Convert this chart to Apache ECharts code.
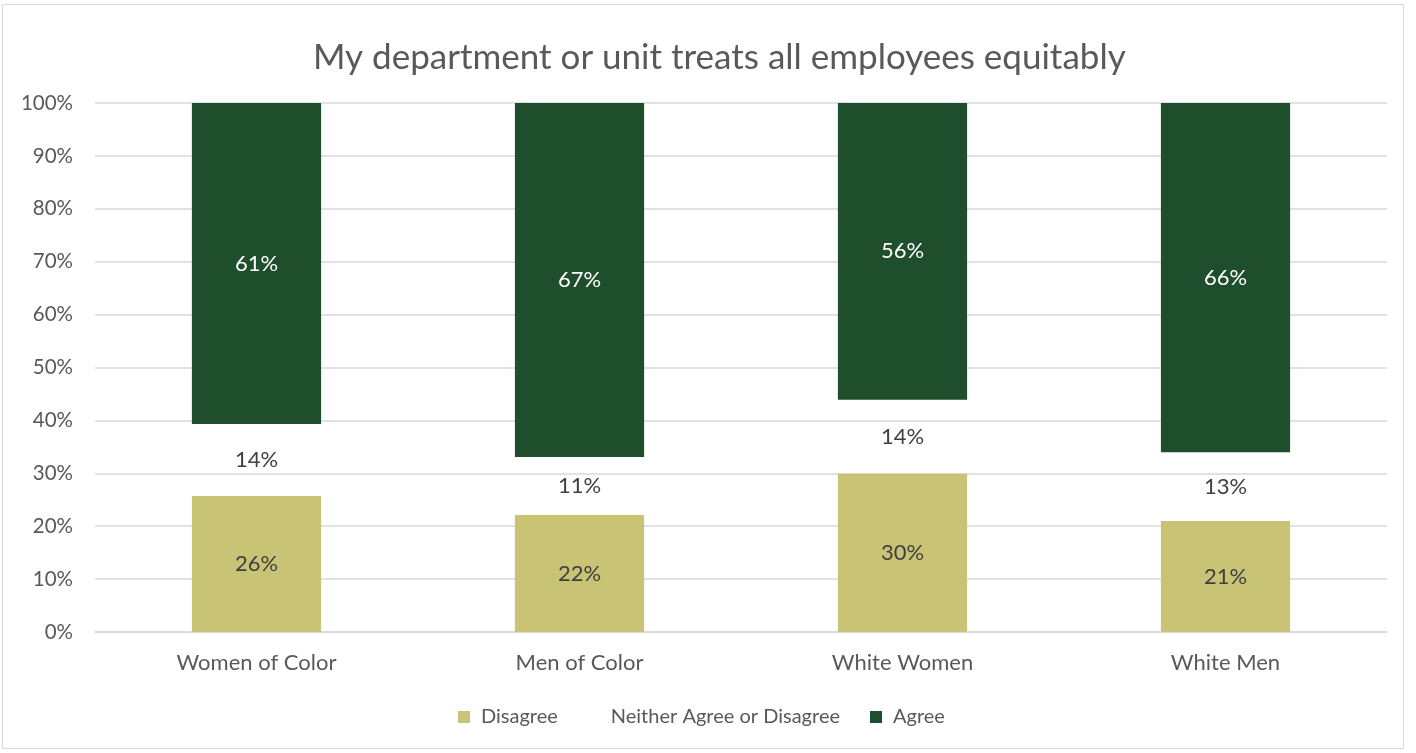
<!DOCTYPE html>
<html>
<head>
<meta charset="utf-8">
<script src="https://cdn.jsdelivr.net/npm/echarts@6/dist/echarts.min.js"></script>
<style>
  html, body { margin: 0; padding: 0; background: #ffffff; }
  #frame { position: absolute; left: 2px; top: 4px; width: 1402px; height: 745px; border: 1px solid #d9d9d9; box-sizing: border-box; }
  #chart { width: 1416px; height: 753px; position: absolute; left: 0; top: 0; }
</style>
</head>
<body>
<div id="frame"></div>
<div id="chart"></div>
<script>
const titleText = 'My department or unit treats all employees equitably';
const categories = ['Women of Color', 'Men of Color', 'White Women', 'White Men'];
const seriesNames = ['Disagree', 'Neither Agree or Disagree', 'Agree'];
// Shares of respondents per group (percent)
const disagree = [25.7, 22.1, 29.9, 21.0];
const neither = [13.6, 11.0, 14.0, 13.0];
const agree = [60.7, 66.9, 56.1, 66.0];
const yTicks = [0, 10, 20, 30, 40, 50, 60, 70, 80, 90, 100];

const FONT = 'Lato, "Open Sans", sans-serif';
const pct = p => Math.round(p.value) + '%';

const chart = echarts.init(document.getElementById('chart'));
chart.setOption({
  backgroundColor: 'transparent',
  animation: false,
  textStyle: { fontFamily: FONT },
  title: {
    text: titleText,
    left: 308,
    top: 35,
    textStyle: { fontFamily: FONT, fontSize: 35, fontWeight: 'normal', color: '#595959' }
  },
  legend: {
    bottom: 21,
    left: 453,
    itemWidth: 12,
    itemHeight: 12,
    itemGap: 30,
    icon: 'rect',
    textStyle: { fontFamily: FONT, fontSize: 20, color: '#595959', padding: [0, 0, 0, 6] },
    data: seriesNames
  },
  grid: { left: 95, right: 29, top: 103, bottom: 121 },
  xAxis: {
    type: 'category',
    data: categories,
    axisLine: { lineStyle: { color: '#d9d9d9', width: 1.5 } },
    axisTick: { show: false },
    axisLabel: { fontFamily: FONT, fontSize: 22, color: '#595959', margin: 20 }
  },
  yAxis: {
    type: 'value',
    min: yTicks[0],
    max: yTicks[yTicks.length - 1],
    interval: 10,
    axisLine: { show: false },
    axisTick: { show: false },
    splitLine: { lineStyle: { color: '#d9d9d9', width: 1.5 } },
    axisLabel: { fontFamily: FONT, fontSize: 20.5, color: '#595959', margin: 22, formatter: v => v + '%' }
  },
  series: [
    {
      name: seriesNames[0], type: 'bar', stack: 'total', barWidth: '40%',
      data: disagree,
      itemStyle: { color: '#c9c475' },
      label: { show: true, position: 'inside', formatter: pct, fontFamily: FONT, fontSize: 22, color: '#404040' }
    },
    {
      name: seriesNames[1], type: 'bar', stack: 'total', barWidth: '40%',
      data: neither,
      itemStyle: { color: 'rgba(255,255,255,0)' },
      label: { show: true, position: 'inside', formatter: pct, fontFamily: FONT, fontSize: 22, color: '#404040' }
    },
    {
      name: seriesNames[2], type: 'bar', stack: 'total', barWidth: '40%',
      data: agree,
      itemStyle: { color: '#1f4e2c' },
      label: { show: true, position: 'inside', formatter: pct, fontFamily: FONT, fontSize: 22, color: '#ffffff' }
    }
  ]
});
</script>
</body>
</html>
